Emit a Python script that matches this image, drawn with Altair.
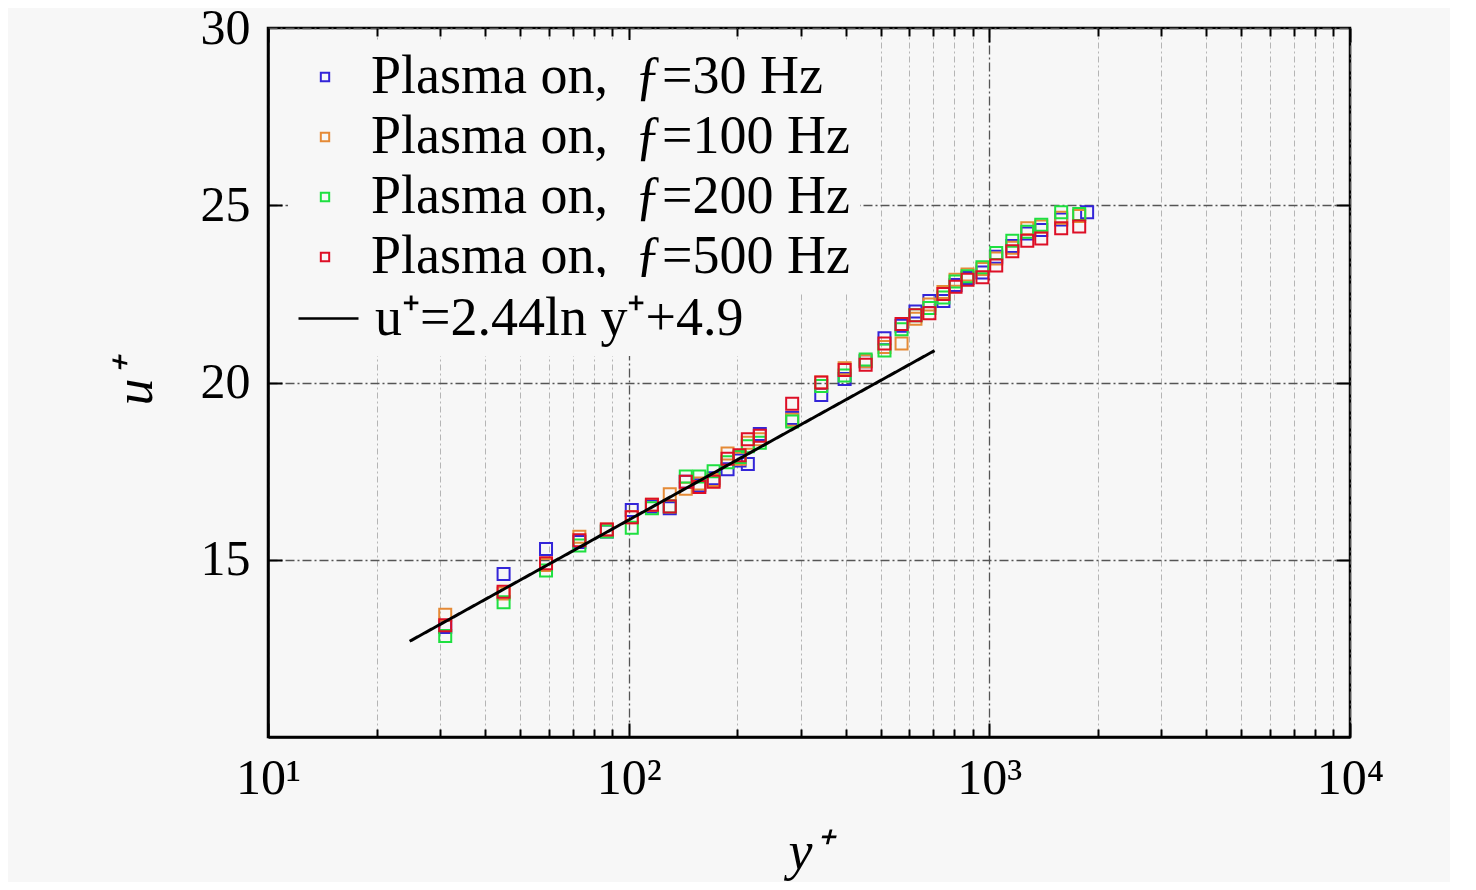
import altair as alt
import pandas as pd

# ---------------- data ----------------
yplus = [31, 45, 59, 73, 87, 102, 116, 130, 144, 157, 172, 188, 203, 214, 231, 284,
         342, 397, 454, 512, 571, 624, 682, 746, 806, 870, 957, 1045, 1158, 1274,
         1393, 1582, 1775]
yplus_30 = yplus[:-1] + [1867]

u_30 = [13.1, 14.6, 15.3, 15.5, 15.8, 16.4, 16.5, 16.45, 17.2, 17.1, 17.3, 17.55, 17.8,
        17.7, 18.55, 19.0, 19.65, 20.1, 20.6, 21.25, 21.6, 22.0, 22.3, 22.3, 22.75,
        22.95, 23.1, 23.55, 23.85, 24.2, 24.3, 24.6, 24.8]
u_100 = [13.45, 14.05, 14.85, 15.65, 15.85, 16.2, 16.55, 16.85, 17.0, 17.15, 17.25, 18.0,
         17.85, 18.3, 18.4, 18.95, 20.0, 20.4, 20.6, 21.0, 21.1, 21.8, 22.2, 22.55, 22.9,
         23.05, 23.2, 23.5, 23.8, 24.35, 24.4, 24.65, 24.7]
u_200 = [12.85, 13.8, 14.7, 15.4, 15.8, 15.9, 16.45, 16.5, 17.35, 17.35, 17.5, 17.75,
         17.9, 18.2, 18.3, 18.9, 19.9, 20.2, 20.65, 20.9, 21.5, 21.9, 22.1, 22.4, 22.85,
         23.0, 23.25, 23.65, 24.0, 24.25, 24.45, 24.8, 24.75]
u_500 = [13.15, 14.1, 14.9, 15.55, 15.85, 16.2, 16.55, 16.5, 17.2, 17.05, 17.2, 17.85,
         17.95, 18.4, 18.5, 19.4, 20.0, 20.35, 20.5, 21.1, 21.65, 21.9, 21.95, 22.5, 22.7,
         22.9, 22.97, 23.3, 23.7, 24.0, 24.06, 24.35, 24.4]

series_names = ["Plasma on,\u00a0 \u0192=30 Hz", "Plasma on,\u00a0 \u0192=100 Hz",
                "Plasma on,\u00a0 \u0192=200 Hz", "Plasma on,\u00a0 \u0192=500 Hz"]
series_colors = ["#3325d8", "#e58a36", "#1ee040", "#dd0f26"]

law_label = "u\u207a=2.44ln y\u207a+4.9"
law_yplus = [24.7, 705]
law_u = [12.7, 20.9]

x_major = [10, 100, 1000, 10000]
x_minor = [20, 30, 40, 50, 60, 70, 80, 90, 200, 300, 400, 500, 600, 700, 800, 900,
           2000, 3000, 4000, 5000, 6000, 7000, 8000, 9000]
y_ticks = [15, 20, 25]
y_labels = [15, 20, 25, 30]

# ---------------- tables ----------------
rows = []
for name, xs_, us_ in zip(series_names, [yplus_30, yplus, yplus, yplus],
                          [u_30, u_100, u_200, u_500]):
    for a, b in zip(xs_, us_):
        rows.append({"yplus": a, "u": b, "series": name})
df = pd.DataFrame(rows)
law_df = pd.DataFrame({"yplus": law_yplus, "u": law_u, "law": [law_label] * 2})

# ---------------- styling ----------------
BG = "#f7f7f7"
FONT = "Liberation Serif"
xscale = alt.Scale(type="log", domain=[10, 10000], nice=False)
yscale = alt.Scale(domain=[10, 30], nice=False, zero=False)

label_expr = ("datum.value == 10 ? '10\u00b9' : datum.value == 100 ? '10\u00b2' : "
              "datum.value == 1000 ? '10\u00b3' : '10\u2074'")


def tick_axis(orient, values, size):
    return alt.Axis(orient=orient, values=values, labels=False, domain=False, grid=False,
                    ticks=True, tickSize=size, tickWidth=2, tickColor="black",
                    offset=-size, title=None)


points = alt.Chart(df).mark_point(shape="square", filled=False, size=144,
                                  strokeWidth=2, opacity=1).encode(
    x=alt.X("yplus:Q", scale=xscale,
            axis=alt.Axis(orient="bottom", values=x_major, labelExpr=label_expr,
                          labelFlush=False, labelFont=FONT, labelFontSize=50,
                          labelColor="black", labelPadding=16, ticks=False, tickSize=0,
                          domain=True, domainColor="black", domainWidth=2.5,
                          grid=True, gridColor="#555555", gridWidth=1.3,
                          gridDash=[9, 3, 2, 3], title="y\u207a", titleFont=FONT,
                          titleFontSize=54, titleFontStyle="italic",
                          titleFontWeight="normal", titleColor="black",
                          titlePadding=22)),
    y=alt.Y("u:Q", scale=yscale,
            axis=alt.Axis(orient="left", values=y_labels, labelFont=FONT,
                          labelFontSize=50, labelColor="black", labelPadding=18,
                          ticks=False, tickSize=0, domain=True, domainColor="black",
                          domainWidth=2.5, grid=True, gridColor="#555555",
                          gridWidth=1.3, gridDash=[9, 3, 2, 3], title="u\u207a",
                          titleFont=FONT, titleFontSize=54, titleFontStyle="italic",
                          titleFontWeight="normal", titleColor="black",
                          titlePadding=38)),
    color=alt.Color("series:N",
                    scale=alt.Scale(domain=series_names, range=series_colors),
                    legend=alt.Legend(title=None, orient="none", legendX=20, legendY=12,
                                      symbolType="square", symbolSize=70,
                                      symbolStrokeWidth=2, symbolOpacity=1,
                                      labelFont=FONT,
                                      labelFontSize=54, labelColor="black",
                                      labelLimit=0, labelOffset=19, rowPadding=6,
                                      padding=10, fillColor=BG)),
)

law = alt.Chart(law_df).mark_line(color="black", strokeWidth=3).encode(
    x=alt.X("yplus:Q", scale=xscale,
            axis=alt.Axis(orient="bottom", values=x_minor, labels=False, domain=False,
                          grid=True, gridColor="#b5b5b5", gridWidth=1,
                          gridDash=[6, 3, 2, 3], ticks=True, tickSize=8, tickWidth=2,
                          tickColor="black", offset=-8, title=None)),
    y=alt.Y("u:Q", scale=yscale, axis=tick_axis("left", y_ticks, 14)),
    strokeDash=alt.StrokeDash("law:N", scale=alt.Scale(range=[[1, 0]]),
                              legend=alt.Legend(title=None, orient="none", legendX=19,
                                                legendY=249, symbolType="stroke",
                                                symbolSize=3600,
                                                symbolStrokeColor="black",
                                                symbolStrokeWidth=2.5,
                                                labelFont=FONT, labelFontSize=54,
                                                labelColor="black", labelLimit=0,
                                                labelOffset=15, padding=10,
                                                fillColor=BG)),
)

dummy1 = alt.Chart(law_df).mark_point(opacity=0).encode(
    x=alt.X("yplus:Q", scale=xscale, axis=tick_axis("bottom", x_major, 14)),
    y=alt.Y("u:Q", scale=yscale, axis=tick_axis("right", y_ticks, 14)),
)
dummy2 = alt.Chart(law_df).mark_point(opacity=0).encode(
    x=alt.X("yplus:Q", scale=xscale, axis=tick_axis("top", x_minor, 8)),
    y=alt.Y("u:Q", scale=yscale, axis=None),
)
dummy3 = alt.Chart(law_df).mark_point(opacity=0).encode(
    x=alt.X("yplus:Q", scale=xscale, axis=tick_axis("top", x_major, 14)),
    y=alt.Y("u:Q", scale=yscale, axis=None),
)

chart = alt.layer(points, law, dummy1, dummy2, dummy3).resolve_axis(
    x="independent", y="independent"
).properties(
    width=1082, height=709,
    autosize=alt.AutoSizeParams(type="none"),
    padding={"left": 260, "top": 20, "right": 100, "bottom": 145},
    background=BG,
).configure_view(stroke="black", strokeWidth=2.5)

chart.save("out.html", embed_options={"renderer": "svg", "actions": False})
